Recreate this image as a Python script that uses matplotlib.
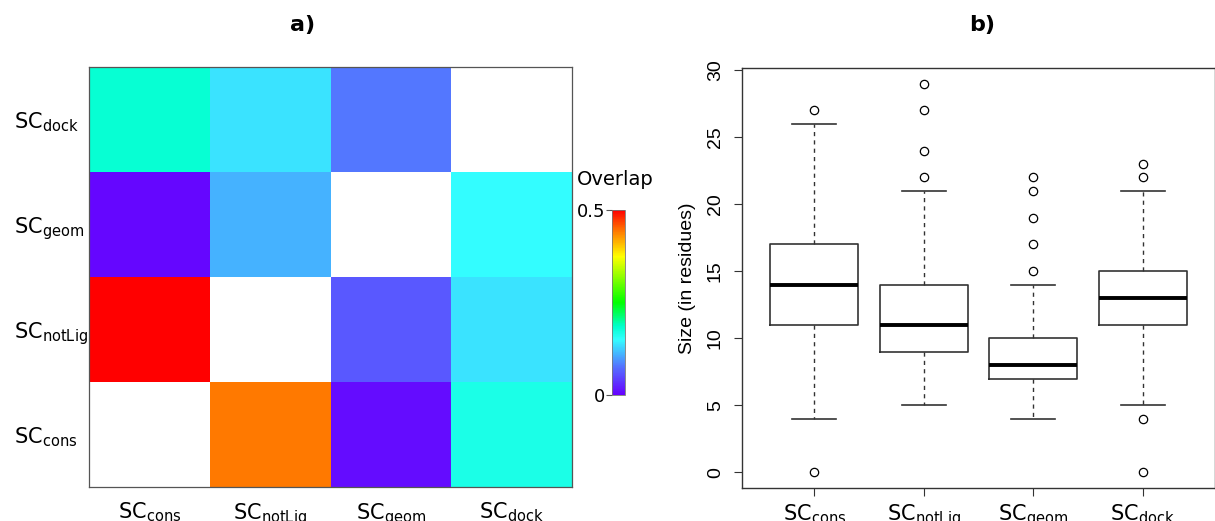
import numpy as np
import matplotlib
matplotlib.use('Agg')
import matplotlib.pyplot as plt
from matplotlib.colors import LinearSegmentedColormap

# categories (order bottom -> top for heatmap rows, left -> right for columns)
groups = ['cons', 'notLig', 'geom', 'dock']

# overlap matrix: rows = y category (cons at bottom), cols = x category
overlap = np.array([
    [np.nan, 0.443, 0.008, 0.167],   # SC_cons row
    [0.500, np.nan, 0.060, 0.135],   # SC_notLig row
    [0.004, 0.110, np.nan, 0.150],   # SC_geom row
    [0.180, 0.135, 0.080, np.nan],   # SC_dock row
])

# boxplot statistics (size in residues)
q1 = [11, 9, 7, 11]
med = [14, 11, 8, 13]
q3 = [17, 14, 10, 15]
wlo = [4, 5, 4, 5]
whi = [26, 21, 14, 21]
outliers = [[27, 0], [22, 24, 27, 29], [15, 17, 19, 21, 22], [22, 23, 4, 0]]

labels = [r'SC$_{\mathregular{%s}}$' % g for g in groups]

cmap = LinearSegmentedColormap.from_list('overlap', [
    (0.0, '#6600FF'), (0.15, '#5570FF'), (0.30, '#33FFFF'), (0.37, '#00FFCC'),
    (0.50, '#00FF00'), (0.75, '#FFFF00'), (0.88, '#FF8000'), (1.0, '#FF0000')])
cmap.set_bad('white')

fig = plt.figure(figsize=(12.15, 5.21), dpi=100)
plt.rcParams['font.family'] = 'DejaVu Sans'

# ---- a) heatmap
ax1 = fig.add_axes([0.0733, 0.0653, 0.3975, 0.806])
mesh = ax1.pcolormesh(np.arange(5), np.arange(5), np.ma.masked_invalid(overlap),
                      cmap=cmap, vmin=0, vmax=0.5)
ax1.set_xlim(0, 4)
ax1.set_ylim(0, 4)
ax1.set_xticks(np.arange(4) + 0.5)
ax1.set_yticks(np.arange(4) + 0.5)
ax1.set_xticklabels(labels, fontsize=15)
ax1.set_yticklabels(labels, fontsize=15, ha='left')
ax1.tick_params(axis='x', length=0, pad=10)
ax1.tick_params(axis='y', length=0, pad=54)
for s in ax1.spines.values():
    s.set_color('#555555')
    s.set_linewidth(0.9)
fig.text(0.249, 0.952, 'a)', fontsize=16, fontweight='bold', ha='center', va='center')

# colorbar
cax = fig.add_axes([0.5037, 0.2418, 0.0107, 0.355])
cb = fig.colorbar(mesh, cax=cax, ticks=[0, 0.5])
cb.ax.set_yticklabels(['0', '0.5'], fontsize=13)
cb.ax.yaxis.set_ticks_position('left')
cb.ax.tick_params(length=4, width=0.8, pad=1, color='#555555')
cb.outline.set_edgecolor('#777777')
cb.outline.set_linewidth(0.6)
fig.text(0.5065, 0.655, 'Overlap', fontsize=14, ha='center', va='center')

# ---- b) boxplot
ax2 = fig.add_axes([0.6107, 0.0633, 0.3893, 0.8062])
stats = []
for i in range(4):
    stats.append({'q1': q1[i], 'med': med[i], 'q3': q3[i], 'whislo': wlo[i],
                  'whishi': whi[i], 'fliers': outliers[i], 'label': labels[i]})
ax2.bxp(stats, positions=[1, 2, 3, 4], widths=0.8, patch_artist=False,
        boxprops=dict(color='#333333', linewidth=1.2),
        medianprops=dict(color='black', linewidth=2.8),
        whiskerprops=dict(color='#333333', linewidth=1.0, linestyle=(0, (3, 3))),
        capprops=dict(color='#333333', linewidth=1.2),
        capwidths=0.4,
        flierprops=dict(marker='o', markersize=6, markerfacecolor='none',
                        markeredgecolor='black', markeredgewidth=0.9))
ax2.set_xlim(0.34, 4.66)
ax2.set_ylim(-1.16, 30.16)
ax2.set_yticks([0, 5, 10, 15, 20, 25, 30])
ax2.set_yticklabels(['0', '5', '10', '15', '20', '25', '30'],
                    rotation=90, va='center', fontsize=14, family='Liberation Sans')
ax2.set_xticklabels(labels, fontsize=15)
ax2.tick_params(axis='y', length=6, pad=7, color='#333333')
ax2.tick_params(axis='x', length=6, pad=4, color='#333333')
ax2.set_ylabel('Size (in residues)', fontsize=14, family='Liberation Sans', labelpad=8)
for s in ax2.spines.values():
    s.set_color('#333333')
    s.set_linewidth(1.0)
fig.text(0.808, 0.952, 'b)', fontsize=16, fontweight='bold', ha='center', va='center')

fig.savefig('out.png', dpi=100)
